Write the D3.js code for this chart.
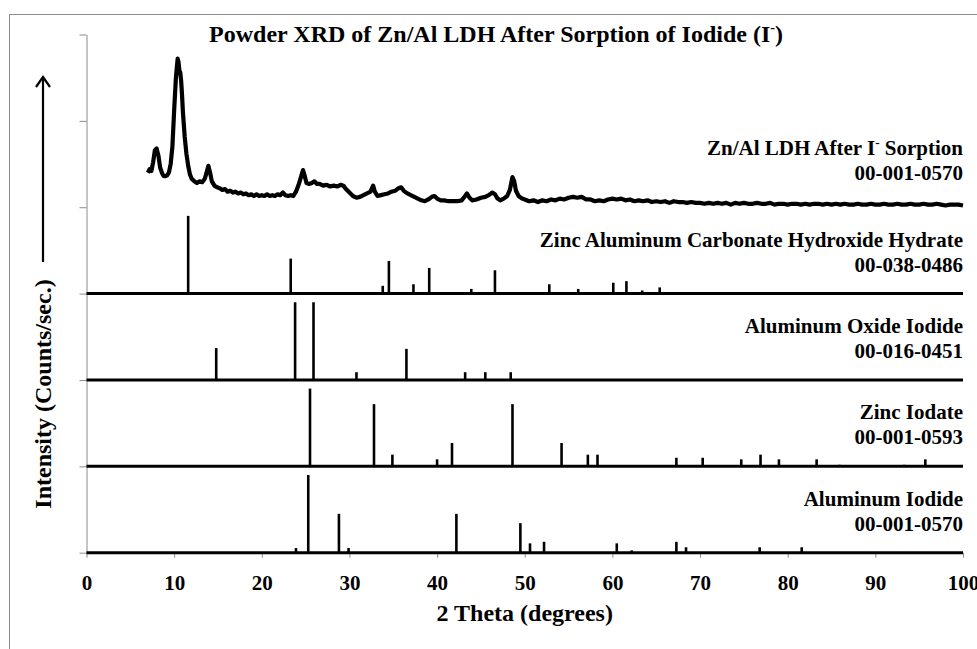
<!DOCTYPE html>
<html>
<head>
<meta charset="utf-8">
<script src="https://cdn.jsdelivr.net/npm/d3@7"></script>
<style>
  html, body { margin: 0; padding: 0; background: #fff; }
</style>
</head>
<body>
<svg id="chart" width="977" height="649"></svg>
<script>
// Measured pattern: Zn/Al LDH after iodide sorption (2θ, counts above its panel base)
const expTheta = [7.0,7.2,7.4,7.6,7.8,8.0,8.2,8.4,8.6,8.8,9.0,9.2,9.4,9.6,9.8,10.0,10.2,10.4,10.5,10.6,10.7,10.8,10.9,11.0,11.2,11.4,11.6,11.8,12.0,12.3,12.6,12.9,13.2,13.5,13.7,13.9,14.1,14.3,14.6,14.9,15.2,15.5,15.8,16.1,16.4,16.7,17.0,17.3,17.6,17.9,18.2,18.5,18.8,19.1,19.4,19.7,20.0,20.3,20.6,20.9,21.2,21.5,21.8,22.1,22.4,22.7,23.0,23.3,23.6,23.9,24.2,24.5,24.7,24.9,25.1,25.4,25.7,26.0,26.3,26.6,27.0,27.4,27.8,28.2,28.6,29.0,29.3,29.6,30.0,30.4,30.8,31.2,31.6,32.0,32.4,32.7,32.9,33.2,33.6,34.0,34.4,34.8,35.2,35.6,35.9,36.2,36.6,37.0,37.4,37.8,38.2,38.6,39.0,39.4,39.7,40.0,40.4,40.8,41.3,41.8,42.3,42.8,43.2,43.4,43.7,44.0,44.5,45.0,45.5,45.9,46.3,46.6,46.9,47.2,47.6,48.0,48.3,48.6,48.8,49.0,49.3,49.7,50.0,50.5,51.0,51.5,52.0,52.5,53.0,53.5,54.0,54.5,55.0,55.5,56.0,56.5,57.0,57.5,58.0,58.5,59.0,59.5,60.0,60.5,61.0,61.5,62.0,62.5,63.0,63.5,64.0,64.5,65.0,65.5,66.0,66.5,67.0,67.5,68.0,68.5,69.0,69.5,70.0,70.5,71.0,71.5,72.0,72.5,73.0,73.5,74.0,74.5,75.0,75.5,76.0,76.5,77.0,77.5,78.0,78.5,79.0,79.5,80.0,80.5,81.0,81.5,82.0,82.5,83.0,83.5,84.0,84.5,85.0,85.5,86.0,86.5,87.0,87.5,88.0,88.5,89.0,89.5,90.0,90.5,91.0,91.5,92.0,92.5,93.0,93.5,94.0,94.5,95.0,95.5,96.0,96.5,97.0,97.5,98.0,98.5,99.0,99.5,100.0];
const expCounts = [40,44,42,52,66,68,60,46,40,36,36,37,40,50,70,112,150,172,168,158,156,146,130,110,82,62,48,38,33,30,28,30,29,33,40,48,40,30,25,23,22,20,21,18,19,17,18,16,17,15,16,14,15,13,15,13,14,13,15,13,14,13,15,14,17,14,13,14,13,18,26,36,43,36,28,27,28,30,27,27,25,26,24,25,24,26,25,21,17,13,11,12,14,16,18,25,18,13,14,15,16,18,19,22,23,19,16,14,12,10,8,7,9,12,13,10,8,8,7,7,7,8,13,16,11,8,9,11,12,14,17,15,10,8,10,13,20,35,30,19,13,10,9,7,8,6,8,7,9,8,10,9,11,12,11,12,9,9,7,8,7,9,10,9,10,8,9,7,8,7,8,6,7,6,7,5,7,6,6,5,6,5,5,4,5,4,5,4,5,3,5,4,5,4,4,5,4,4,5,3,4,4,3,4,4,3,4,3,4,4,3,4,3,4,3,4,3,3,4,3,3,4,3,3,4,3,3,4,3,3,4,3,3,4,3,3,4,3,2,3,3,3,2,3,3,2];

// Reference stick patterns (2θ, relative intensity 0–100)
const carbTheta = [11.6,23.3,33.8,34.5,37.3,39.1,43.9,46.6,52.8,56.1,60.1,61.6,63.4,65.4];
const carbInt   = [100,45,10,42,12,33,6,30,12,6,14,16,4,8];

const oxiTheta = [14.8,23.8,25.9,30.8,36.5,43.2,45.5,48.4];
const oxiInt   = [41,100,100,10,40,10,10,10];

const znioTheta = [25.5,30.6,32.8,34.9,37.3,40.0,41.7,48.6,54.2,57.2,58.3,67.3,70.3,74.7,76.9,79.0,83.3,85.9,93.3,95.7];
const znioInt   = [100,1,80,15,1,9,30,80,30,15,15,11,11,9,15,9,9,2,2,9];

const aliTheta = [23.9,25.3,28.8,29.9,42.2,49.5,50.6,52.2,60.5,62.2,67.3,68.4,76.8,81.6];
const aliInt   = [6,100,50,6,50,38,12,14,12,3,14,7,7,7];

// Stacking order (bottom to top) and labels
const refNames = ["Aluminum Iodide", "Zinc Iodate", "Aluminum Oxide Iodide", "Zinc Aluminum Carbonate Hydroxide Hydrate"];
const refCards = ["00-001-0570", "00-001-0593", "00-016-0451", "00-038-0486"];
const expCard = "00-001-0570";
const xTicks = [0,10,20,30,40,50,60,70,80,90,100];
const yTicks = [0,100,200,300,400,500,600];

const FONT = "Liberation Serif";
const svg = d3.select("#chart");
const W = 977, H = 649;
const m = { left: 86.5, right: 14, top: 34.5, bottom: 96.3 };

const x = d3.scaleLinear().domain([0, 100]).range([m.left, W - m.right]);
const y = d3.scaleLinear().domain([0, 600]).range([H - m.bottom, m.top]);

function label(sel, size) {
  return sel.append("text").attr("font-family", FONT).attr("font-weight", "bold")
    .attr("font-size", size).attr("fill", "#000");
}

// outer frame
svg.append("rect").attr("x", 9.5).attr("y", 14.5).attr("width", 1100).attr("height", 800)
  .attr("fill", "none").attr("stroke", "#8c8c8c").attr("stroke-width", 1);

// y axis (unlabelled ticks)
const yAxis = svg.append("g").attr("transform", `translate(${m.left},0)`)
  .call(d3.axisLeft(y).tickValues(yTicks).tickFormat("").tickSize(7).tickSizeOuter(0));
yAxis.selectAll("path, line").attr("stroke", "#8c8c8c");

// x axis
const xAxis = svg.append("g").attr("transform", `translate(0,${y(0)})`)
  .call(d3.axisBottom(x).tickValues(xTicks).tickSize(5).tickSizeOuter(0).tickPadding(17));
xAxis.attr("font-family", FONT);
xAxis.select("path").remove();
xAxis.selectAll("line").attr("stroke", "#8c8c8c");
xAxis.selectAll("text").attr("font-size", 21).attr("font-family", FONT)
  .attr("font-weight", "bold").attr("fill", "#000").attr("dy", "0.71em");

// reference stick patterns
const refs = [
  { theta: aliTheta, inten: aliInt },
  { theta: znioTheta, inten: znioInt },
  { theta: oxiTheta, inten: oxiInt },
  { theta: carbTheta, inten: carbInt }
];
const stickScale = 0.9; // 100% relative intensity fills 90% of a panel

refs.forEach((r, i) => {
  const base = i * 100;
  const g = svg.append("g");
  g.selectAll("line.stick").data(r.theta.map((t, k) => ({ t, v: r.inten[k] })))
    .join("line").attr("class", "stick")
    .attr("x1", d => x(d.t)).attr("x2", d => x(d.t))
    .attr("y1", y(base)).attr("y2", d => y(base + d.v * stickScale))
    .attr("stroke", "#000").attr("stroke-width", 2.6);
  g.append("line")
    .attr("x1", x(0)).attr("x2", x(100)).attr("y1", y(base)).attr("y2", y(base))
    .attr("stroke", "#000").attr("stroke-width", 3);
  const yb = y(base);
  label(g, 21).attr("x", x(100)).attr("y", yb - 47).attr("text-anchor", "end").text(refNames[i]);
  label(g, 21).attr("x", x(100)).attr("y", yb - 22).attr("text-anchor", "end").text(refCards[i]);
});

// measured pattern
const expBase = 400;
const line = d3.line().x(d => x(d[0])).y(d => y(expBase + d[1])).curve(d3.curveLinear);
svg.append("path").datum(expTheta.map((t, k) => [t, expCounts[k]]))
  .attr("d", line).attr("fill", "none").attr("stroke", "#000")
  .attr("stroke-width", 4.2).attr("stroke-linejoin", "round");

const expLab = label(svg, 21).attr("x", x(100)).attr("y", y(expBase) - 52).attr("text-anchor", "end");
expLab.append("tspan").text("Zn/Al LDH After I");
expLab.append("tspan").attr("font-size", 13).attr("dy", -8).text("-");
expLab.append("tspan").attr("dy", 8).text(" Sorption");
label(svg, 21).attr("x", x(100)).attr("y", y(expBase) - 27).attr("text-anchor", "end").text(expCard);

// chart title
const title = label(svg, 24).attr("x", 496).attr("y", 42).attr("text-anchor", "middle");
title.append("tspan").text("Powder XRD of Zn/Al LDH After Sorption of Iodide (I");
title.append("tspan").attr("font-size", 14).attr("dy", -10).text("-");
title.append("tspan").attr("dy", 10).text(")");

// x axis title
label(svg, 24).attr("x", (x(0) + x(100)) / 2).attr("y", 621).attr("text-anchor", "middle")
  .text("2 Theta (degrees)");

// y axis title with upward arrow
label(svg, 24).attr("transform", "translate(51,394) rotate(-90)")
  .attr("text-anchor", "middle").text("Intensity (Counts/sec.)");
svg.append("line").attr("x1", 43).attr("x2", 43).attr("y1", 262).attr("y2", 77)
  .attr("stroke", "#000").attr("stroke-width", 2.2);
svg.append("path").attr("d", "M36,87 L43,77 L50,87").attr("fill", "none")
  .attr("stroke", "#000").attr("stroke-width", 2.2);
</script>
</body>
</html>
